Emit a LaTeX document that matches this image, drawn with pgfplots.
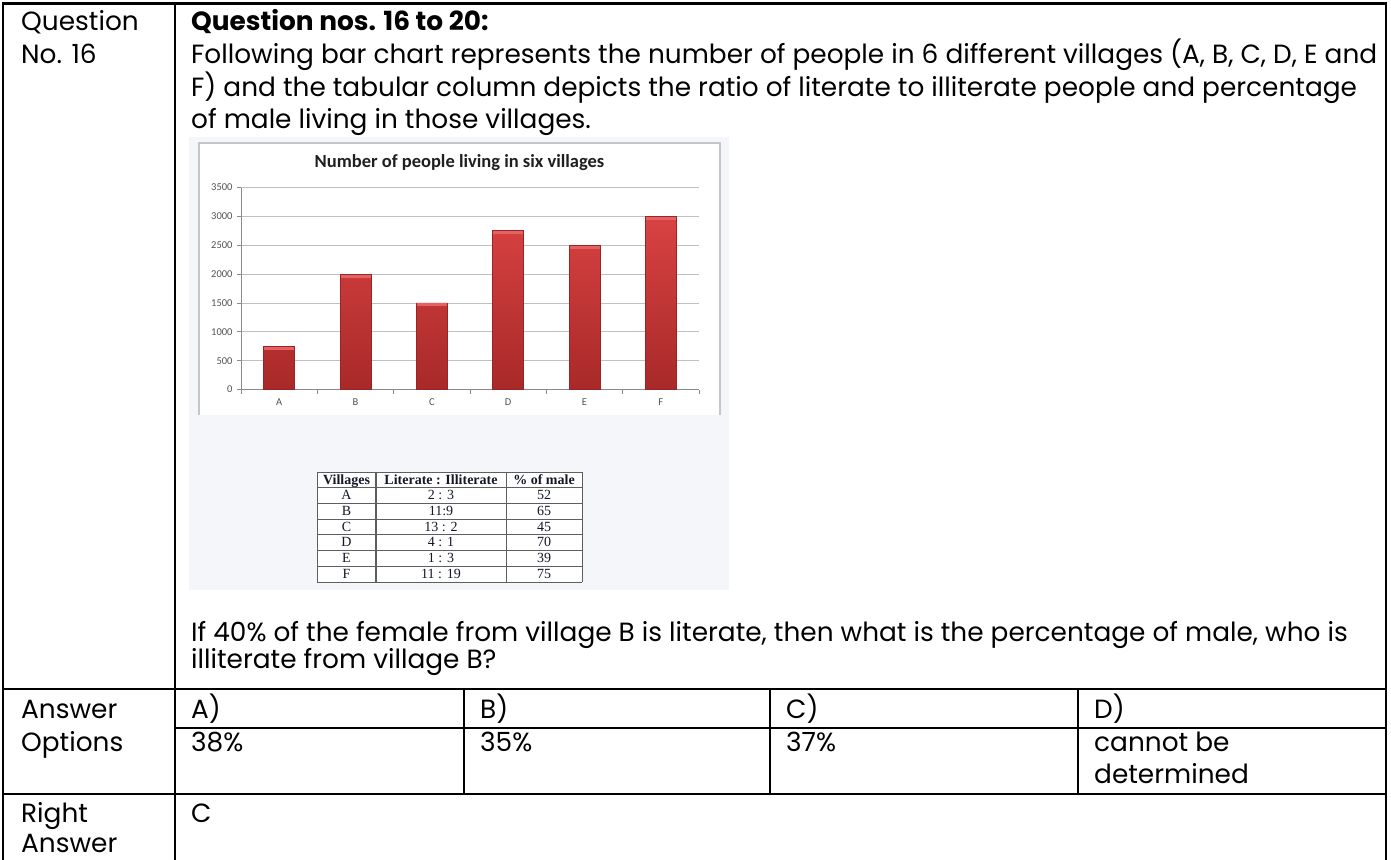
\documentclass[border=0pt]{standalone}
\usepackage{fontspec}
\setmainfont{Poppins}
\newfontfamily\chartfont{Carlito}
\newfontfamily\tabfont{Liberation Serif}
\usepackage{pgfplots}
\pgfplotsset{compat=1.18}
\definecolor{barTop}{HTML}{D94242}
\definecolor{barBot}{HTML}{A82929}
\definecolor{barCap}{HTML}{E56262}
\definecolor{barEdge}{HTML}{9C2323}
\definecolor{imgbg}{HTML}{F4F6F9}
\definecolor{frameC}{HTML}{C4C6C9}
\definecolor{gridC}{HTML}{C0C0C0}
\definecolor{axisC}{HTML}{8A8A8A}
\definecolor{tabline}{HTML}{5E5E5E}
\definecolor{tabtext}{HTML}{141826}
\newlength\Lw
\begin{document}
\settowidth\Lw{\fontsize{20pt}{24pt}\selectfont Following bar chart represents the number of people in 6 different villages (A, B, C, D, E and}%
\pgfmathsetmacro\fsr{1186/\Lw}%
\pgfmathsetmacro\fs{\fsr*20}%
\def\mf{\fontsize{\fs pt}{\fs pt}\selectfont}%
\begin{tikzpicture}[x=1pt,y=1pt]
\path[use as bounding box] (0,0) rectangle (1391,-859);
% picture background
\fill[imgbg] (189,-137) rectangle (729,-590);
\fill[white] (199,-143) rectangle (720,-415);
\draw[frameC, line width=1.5pt] (199,-415) -- (199,-143) -- (720,-143) -- (720,-415);
\node[font=\chartfont\bfseries\fontsize{18.5}{18.5}\selectfont, text=black!88] at (459.5,-163) {Number of people living in six villages};
\begin{axis}[at={(241pt,-389.5pt)}, anchor=south west, scale only axis,
  width=458pt, height=202pt, xmin=-0.5, xmax=5.5, ymin=0, ymax=3500,
  enlargelimits=false, axis x line*=bottom, axis y line*=left,
  axis line style={axisC, line width=0.8pt, -},
  ytick={0,500,...,3500},
  xtick={-0.5,0.5,...,5.5}, xticklabels={},
  extra x ticks={0,1,2,3,4,5}, extra x tick labels={A,B,C,D,E,F},
  extra x tick style={major tick length=0pt, xticklabel style={yshift=-6pt}},
  tick align=outside, major tick length=4pt,
  every tick/.style={axisC, line width=0.7pt},
  ymajorgrids, major grid style={gridC, line width=0.8pt},
  tick label style={font=\chartfont\fontsize{10.5}{10.5}\selectfont, text=black!68},
  /pgf/number format/assume math mode=true, /pgf/number format/1000 sep={},
  yticklabel style={xshift=-1pt},
  clip=false]
\addplot[ybar, bar width=31pt, draw=barEdge, line width=0.6pt, top color=barTop, bottom color=barBot]
  coordinates {(0,750) (1,2000) (2,1500) (3,2750) (4,2500) (5,3000)};
\addplot[only marks, mark=-, mark size=15pt, mark options={barCap, line width=3pt, yshift=-2pt}]
  coordinates {(0,750) (1,2000) (2,1500) (3,2750) (4,2500) (5,3000)};
\end{axis}
% small table
\fill[white] (317,-472) rectangle (582,-582);
\foreach \k in {0,...,7}{\draw[tabline, line width=0.9pt] (317,{-472-15.714*\k}) -- (582,{-472-15.714*\k});}
\draw[tabline, line width=0.9pt] (317,-472) -- (317,-582);
\draw[tabline, line width=2pt] (376,-472) -- (376,-582);
\draw[tabline, line width=0.9pt] (506,-472) -- (506,-582);
\draw[tabline, line width=0.9pt] (582,-472) -- (582,-582);
\begin{scope}[every node/.style={anchor=base, inner sep=0pt, text=tabtext, font=\tabfont\fontsize{14}{14}\selectfont}]
\node at (346.5,-484) {\bfseries Villages};
\node at (441,-484) {\bfseries Literate : Illiterate};
\node at (544,-484) {\bfseries \% of male};
\foreach \v/\r/\p [count=\i] in {A/2 : 3/52, B/11:9/65, C/13 : 2/45, D/4 : 1/70, E/1 : 3/39, F/11 : 19/75}{
  \node at (346.5,{-484-15.714*\i}) {\v};
  \node at (441,{-484-15.714*\i}) {\r};
  \node at (544,{-484-15.714*\i}) {\p};
}
\end{scope}
% main table lines
\begin{scope}[line width=2.5pt, line cap=rect]
\draw (3,-859) -- (3,-3.5) -- (1386,-3.5) -- (1386,-859);
\draw (175,-3.5) -- (175,-859);
\draw (3,-689) -- (1386,-689);
\draw (175,-728) -- (1386,-728);
\draw (3,-794) -- (1386,-794);
\draw (464,-689) -- (464,-794);
\draw (770,-689) -- (770,-794);
\draw (1078,-689) -- (1078,-794);
\end{scope}
% texts
\begin{scope}[every node/.style={anchor=base west, inner sep=0pt}]
\node at (21,-31) {\mf Question};
\node at (21,-63.5) {\mf No. 16};
\node at (191,-31) {\mf\bfseries Question nos. 16 to 20:};
\node at (191,-63.5) {\mf Following bar chart represents the number of people in 6 different villages (A, B, C, D, E and};
\node at (191,-96) {\mf F) and the tabular column depicts the ratio of literate to illiterate people and percentage};
\node at (191,-128) {\mf of male living in those villages.};
\node at (191,-641) {\mf If 40\% of the female from village B is literate, then what is the percentage of male, who is};
\node at (191,-668) {\mf illiterate from village B?};
\node at (21,-718) {\mf Answer};
\node at (21,-751) {\mf Options};
\node at (191,-718) {\mf A)};
\node at (480,-718) {\mf B)};
\node at (786,-718) {\mf C)};
\node at (1094,-718) {\mf D)};
\node at (191,-751) {\mf 38\%};
\node at (480,-751) {\mf 35\%};
\node at (786,-751) {\mf 37\%};
\node at (1094,-751) {\mf cannot be};
\node at (1094,-783) {\mf determined};
\node at (21,-822) {\mf Right};
\node at (21,-852) {\mf Answer};
\node at (191,-822) {\mf C};
\end{scope}
\end{tikzpicture}
\end{document}
